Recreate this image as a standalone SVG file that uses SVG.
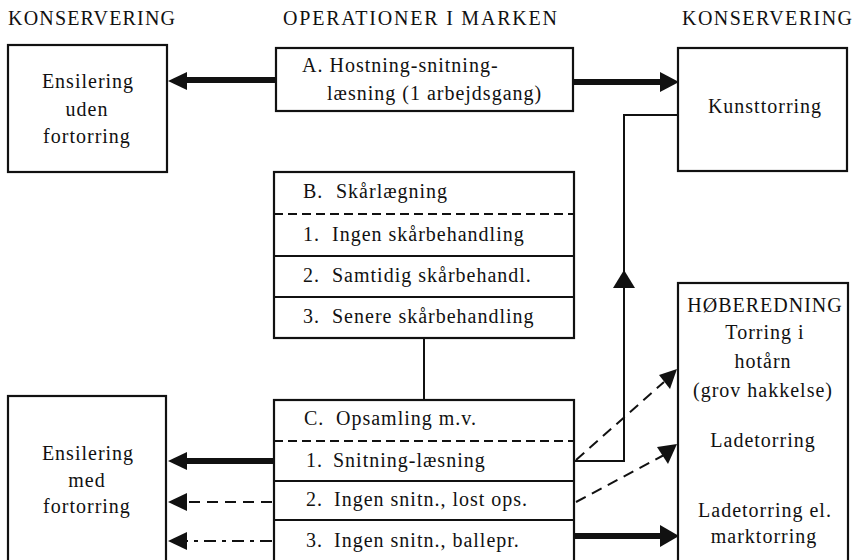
<svg xmlns="http://www.w3.org/2000/svg" width="859" height="560" viewBox="0 0 859 560">
<style>
text{font-family:"Liberation Serif","Times New Roman",serif;font-size:20px;fill:#111;letter-spacing:1px}
.hd{font-size:20px}
.c{text-anchor:middle}
.box{fill:#fff;stroke:#111;stroke-width:2.2}
.sep{stroke:#111;stroke-width:2}
.dsep{stroke:#111;stroke-width:2;stroke-dasharray:9 5}
.thick{stroke:#111;stroke-width:6;fill:none}
.thin{stroke:#111;stroke-width:2;fill:none}
.dash{stroke:#111;stroke-width:2;fill:none;stroke-dasharray:11 7}
.dashdot{stroke:#111;stroke-width:2;fill:none;stroke-dasharray:12 6 4 6}
.head{fill:#111}
</style>
<rect width="859" height="560" fill="#fff"/>
<g id="headers">
<text class="hd" x="8" y="25" textLength="168">KONSERVERING</text>
<text class="hd" x="283" y="25" textLength="275">OPERATIONER I MARKEN</text>
<text class="hd" x="682" y="25" textLength="171">KONSERVERING</text>
</g>
<g id="ensilering-uden">
<rect class="box" x="8" y="45" width="159" height="127"/>
<text class="c" x="88" y="88">Ensilering</text>
<text class="c" x="87" y="116">uden</text>
<text class="c" x="87" y="143">fortorring</text>
</g>
<g id="node-a">
<rect class="box" x="276" y="48" width="297" height="63"/>
<text x="302" y="72">A. Hostning-snitning-</text>
<text x="327" y="100">læsning (1 arbejdsgang)</text>
</g>
<g id="kunsttorring">
<rect class="box" x="678" y="48" width="169" height="123"/>
<text class="c" x="765" y="113">Kunsttorring</text>
</g>
<g id="node-b">
<rect class="box" x="274" y="172" width="300" height="166"/>
<line class="dsep" x1="274" y1="214" x2="574" y2="214"/>
<line class="sep" x1="274" y1="256" x2="574" y2="256"/>
<line class="sep" x1="274" y1="297" x2="574" y2="297"/>
<text x="303" y="198">B.<tspan x="336">Skårlægning</tspan></text>
<text x="303" y="241">1.<tspan x="332">Ingen skårbehandling</tspan></text>
<text x="303" y="282">2.<tspan x="332">Samtidig skårbehandl.</tspan></text>
<text x="303" y="323">3.<tspan x="332">Senere skårbehandling</tspan></text>
</g>
<g id="node-c">
<rect class="box" x="274" y="400" width="300" height="170"/>
<line class="dsep" x1="274" y1="441" x2="574" y2="441"/>
<line class="sep" x1="274" y1="481" x2="574" y2="481"/>
<line class="sep" x1="274" y1="520" x2="574" y2="520"/>
<text x="304" y="425">C.<tspan x="336">Opsamling m.v.</tspan></text>
<text x="306" y="467">1.<tspan x="333">Snitning-læsning</tspan></text>
<text x="306" y="506">2.<tspan x="334">Ingen snitn., lost ops.</tspan></text>
<text x="306" y="547">3.<tspan x="334">Ingen snitn., ballepr.</tspan></text>
</g>
<g id="ensilering-med">
<rect class="box" x="8" y="396" width="158" height="174"/>
<text class="c" x="88" y="460">Ensilering</text>
<text class="c" x="87" y="487">med</text>
<text class="c" x="87" y="513">fortorring</text>
</g>
<g id="hoberedning">
<rect class="box" x="678" y="283" width="170" height="287"/>
<text class="c" x="765" y="312" letter-spacing="0.5">HØBEREDNING</text>
<text class="c" x="765" y="339">Torring i</text>
<text class="c" x="763" y="368">hotårn</text>
<text class="c" x="763" y="397">(grov hakkelse)</text>
<text class="c" x="763" y="447">Ladetorring</text>
<text class="c" x="765" y="517">Ladetorring el.</text>
<text class="c" x="764" y="543">marktorring</text>
</g>
<g id="connectors">
<line class="thick" x1="276" y1="80" x2="184" y2="80"/>
<polygon class="head" points="168,81 187,72 187,90"/>
<line class="thick" x1="573" y1="82" x2="662" y2="82"/>
<polygon class="head" points="679,82 660,72 660,92"/>
<polyline class="thin" points="678,115 624,115 624,461 574,461"/>
<polygon class="head" points="624,270 613,288 635,288"/>
<line class="thin" x1="424" y1="338" x2="424" y2="400"/>
<line class="thick" x1="274" y1="461" x2="184" y2="461"/>
<polygon class="head" points="168,461 187,452 187,470"/>
<line class="dash" x1="272" y1="502" x2="186" y2="502"/>
<polygon class="head" points="168,502 187,493 187,511"/>
<line class="dashdot" x1="272" y1="541" x2="186" y2="541"/>
<polygon class="head" points="168,541 187,532 187,550"/>
<line class="dash" x1="576" y1="460" x2="664" y2="382"/>
<polygon class="head" points="677,369 659,375 670,389"/>
<line class="dash" x1="576" y1="502" x2="664" y2="455"/>
<polygon class="head" points="677,444 657,447 668,464"/>
<line class="thick" x1="574" y1="536" x2="662" y2="536"/>
<polygon class="head" points="679,536 660,525 660,547"/>
</g>
</svg>
